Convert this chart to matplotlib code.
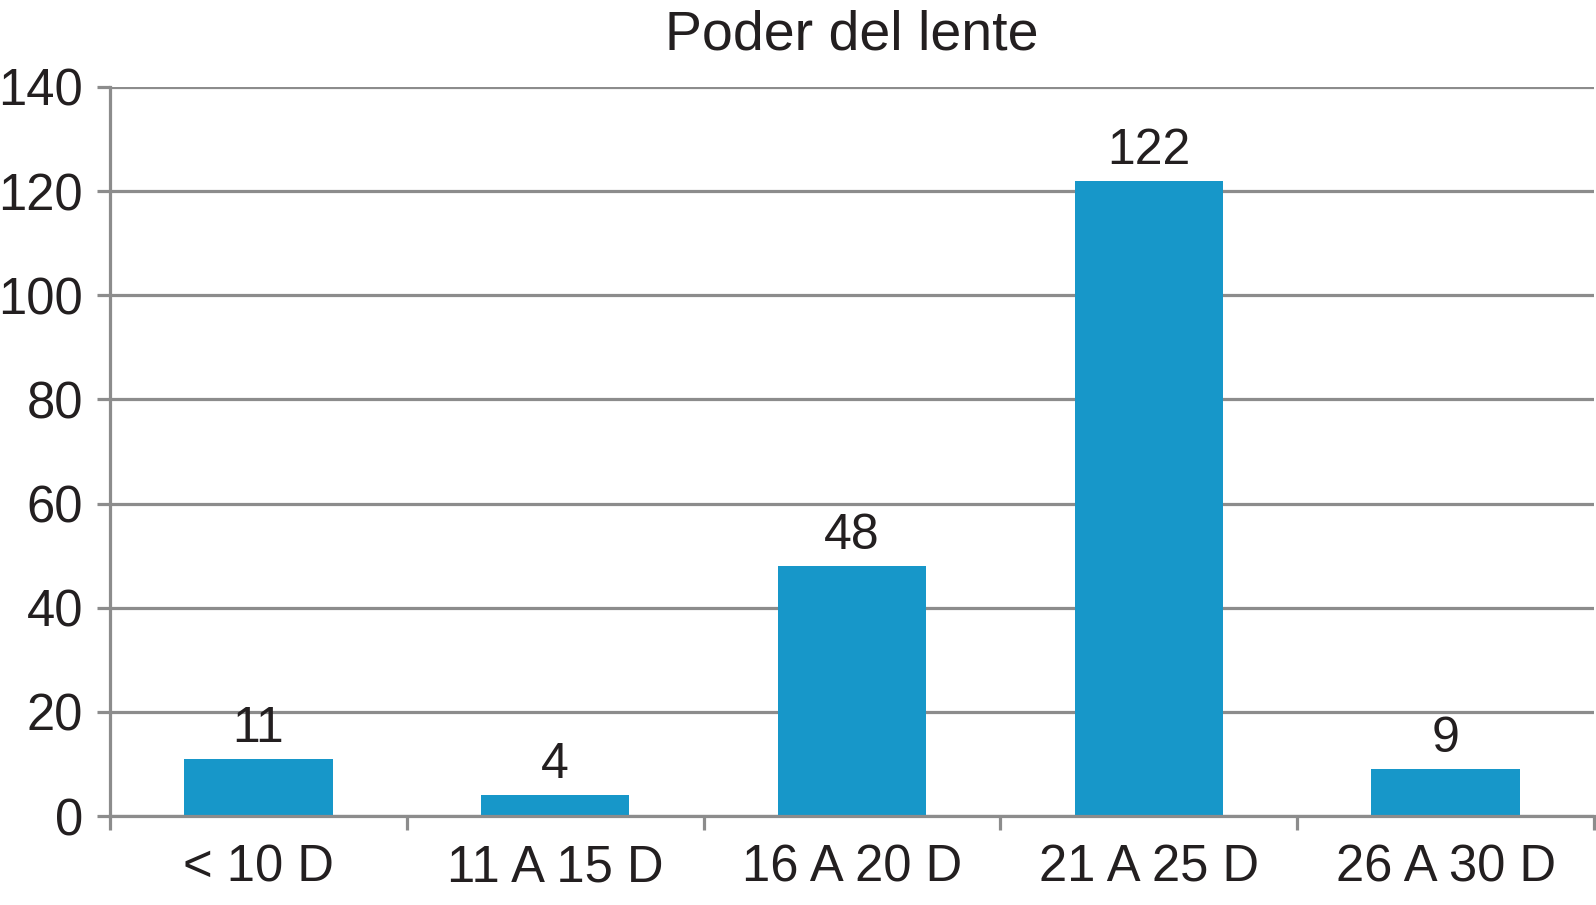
import numpy as np
import matplotlib.pyplot as plt

categorias = ['< 10 D', '11 A 15 D', '16 A 20 D', '21 A 25 D', '26 A 30 D']
valores = [11, 4, 48, 122, 9]
yticks = [0, 20, 40, 60, 80, 100, 120, 140]

plt.rcParams['font.family'] = ['Liberation Sans', 'DejaVu Sans']
gris = '#8c8c8c'
azul = '#1797c9'

fig = plt.figure(figsize=(15.96, 9.05), dpi=100)
ax = fig.add_axes([0.0689, 0.0983, 0.9298, 0.8056])

x = np.arange(len(categorias))
barras = ax.bar(x, valores, width=0.5, color=azul, zorder=3)

# etiquetas encima de cada barra
for b, v in zip(barras, valores):
    ax.annotate(str(v), (b.get_x() + b.get_width() / 2, b.get_height()),
                xytext=(0, 5), textcoords='offset points',
                ha='center', va='bottom', fontsize=36, color='#231f20')

ax.set_xlim(-0.5, len(categorias) - 0.5)
ax.set_ylim(0, 140)
ax.set_yticks(yticks)
ax.set_xticks(x)
ax.set_xticklabels(categorias)
ax.set_xticks(np.arange(len(categorias) + 1) - 0.5, minor=True)

ax.grid(axis='y', color=gris, linewidth=2.3, zorder=0)
ax.tick_params(axis='y', length=9.5, width=2.3, color=gris, pad=10,
               labelsize=36.5, labelcolor='#231f20')
ax.tick_params(axis='x', which='major', length=0, pad=20,
               labelsize=36.5, labelcolor='#231f20')
ax.tick_params(axis='x', which='minor', length=10, width=2.3, color=gris)

for s in ['top', 'right']:
    ax.spines[s].set_visible(False)
for s in ['left', 'bottom']:
    ax.spines[s].set_color(gris)
    ax.spines[s].set_linewidth(2.3)
    ax.spines[s].set_zorder(4)

ax.set_title('Poder del lente', fontsize=40, color='#231f20', pad=27)

fig.savefig('out.png', dpi=100)
